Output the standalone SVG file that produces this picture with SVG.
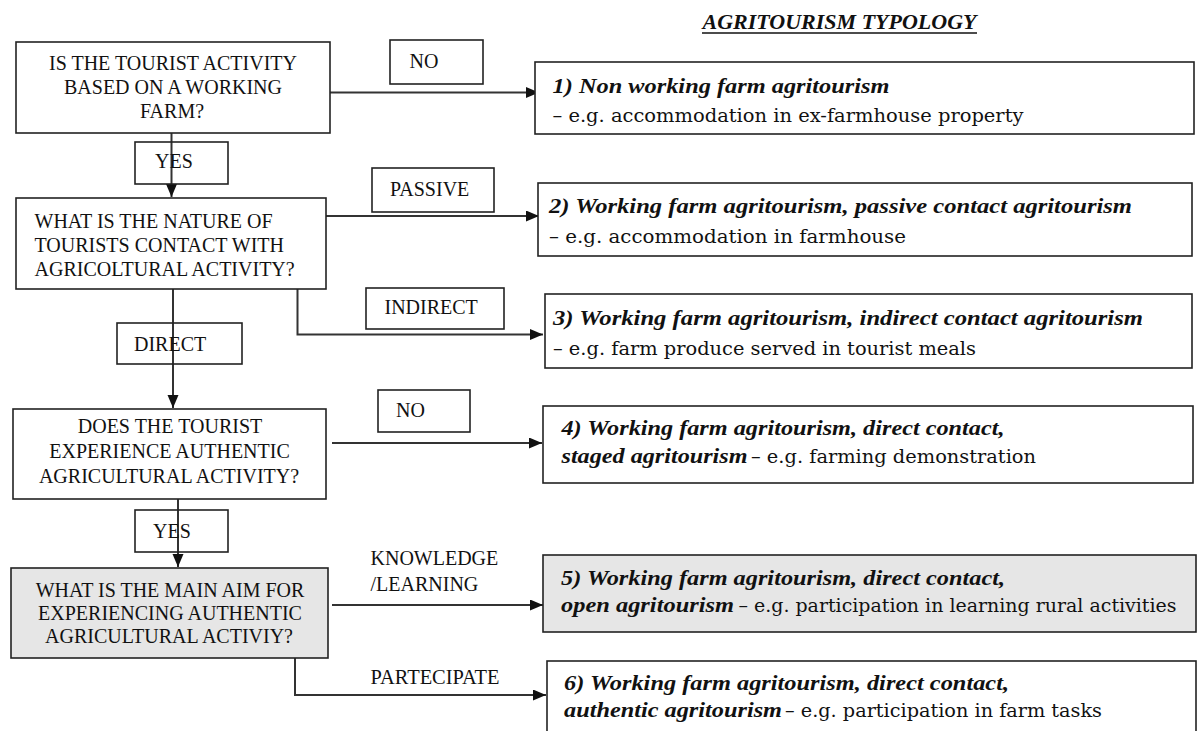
<svg xmlns="http://www.w3.org/2000/svg" width="1197" height="731" viewBox="0 0 1197 731">
  <style>
    .box { fill: #ffffff; stroke: #222222; stroke-width: 1.6; }
    .shade { fill: #e6e6e6; }
    .q { font-family: "Liberation Serif", "Times New Roman", serif; font-size: 20px; fill: #111111; }
    .mid { text-anchor: middle; }
    .t { font-family: "DejaVu Serif", "Liberation Serif", serif; font-size: 19px; fill: #111111; }
    .bi { font-family: "Liberation Serif", "Times New Roman", serif; font-size: 21.5px; font-weight: bold; font-style: italic; fill: #111111; }
    .title { font-family: "Liberation Serif", "Times New Roman", serif; font-size: 20px; font-weight: bold; font-style: italic; fill: #111111; }
    .conn { fill: none; stroke: #333333; stroke-width: 2; }
  </style>
  <defs>
    <marker id="arrow" markerUnits="userSpaceOnUse" markerWidth="14" markerHeight="12" refX="13" refY="5.5" orient="auto">
      <path d="M0,0 L13,5.5 L0,11 z" fill="#111111"/>
    </marker>
  </defs>

  <rect width="1197" height="731" fill="#ffffff"/>

  <!-- heading -->
  <g id="heading">
    <text class="title" x="702.5" y="29" textLength="274" lengthAdjust="spacingAndGlyphs">AGRITOURISM TYPOLOGY</text>
    <line x1="702" y1="33" x2="977" y2="33" stroke="#111111" stroke-width="1.3"/>
  </g>

  <!-- connectors -->
  <g id="connectors">
    <path class="conn" d="M330,92.5 H539" marker-end="url(#arrow)"/>
    <path class="conn" d="M171.5,133 V197" marker-end="url(#arrow)"/>
    <path class="conn" d="M326,216 H539" marker-end="url(#arrow)"/>
    <path class="conn" d="M297.5,289 V334.5 H543" marker-end="url(#arrow)"/>
    <path class="conn" d="M173,289 V408" marker-end="url(#arrow)"/>
    <path class="conn" d="M332,443 H542" marker-end="url(#arrow)"/>
    <path class="conn" d="M178,499 V567" marker-end="url(#arrow)"/>
    <path class="conn" d="M332,605 H543" marker-end="url(#arrow)"/>
    <path class="conn" d="M295,658 V695 H546" marker-end="url(#arrow)"/>
  </g>

  <!-- edge labels -->
  <g id="label-no-1">
    <rect class="box" x="390" y="40" width="93" height="44"/>
    <text class="q" x="409.5" y="68">NO</text>
  </g>
  <g id="label-yes-1">
    <rect class="box" x="135" y="142" width="93" height="42" fill-opacity="0"/>
    <text class="q" x="155" y="168">YES</text>
  </g>
  <g id="label-passive">
    <rect class="box" x="372" y="168" width="122" height="44"/>
    <text class="q" x="390" y="196">PASSIVE</text>
  </g>
  <g id="label-indirect">
    <rect class="box" x="366" y="288" width="138" height="41"/>
    <text class="q" x="384.5" y="314">INDIRECT</text>
  </g>
  <g id="label-direct">
    <rect class="box" x="117" y="323" width="125" height="41" fill-opacity="0"/>
    <text class="q" x="134" y="351">DIRECT</text>
  </g>
  <g id="label-no-2">
    <rect class="box" x="378" y="390" width="92" height="42"/>
    <text class="q" x="396" y="417">NO</text>
  </g>
  <g id="label-yes-2">
    <rect class="box" x="135" y="510" width="93" height="42" fill-opacity="0"/>
    <text class="q" x="153" y="538">YES</text>
  </g>
  <g id="label-knowledge">
    <text class="q" x="370.5" y="565">KNOWLEDGE</text>
    <text class="q" x="370.5" y="591">/LEARNING</text>
  </g>
  <g id="label-participate">
    <text class="q" x="370.5" y="684" textLength="129" lengthAdjust="spacingAndGlyphs">PARTECIPATE</text>
  </g>

  <!-- decision questions -->
  <g id="q-working-farm">
    <rect class="box" x="16" y="42" width="314" height="91"/>
    <text class="q mid" x="173" y="70">IS THE TOURIST ACTIVITY</text>
    <text class="q mid" x="173" y="94">BASED ON A WORKING</text>
    <text class="q mid" x="172" y="118">FARM?</text>
  </g>
  <g id="q-contact-nature">
    <rect class="box" x="16" y="198" width="310" height="91"/>
    <text class="q" x="34.5" y="228">WHAT IS THE NATURE OF</text>
    <text class="q" x="34.5" y="252">TOURISTS CONTACT WITH</text>
    <text class="q" x="34.5" y="276">AGRICOLTURAL ACTIVITY?</text>
  </g>
  <g id="q-authentic">
    <rect class="box" x="13" y="409" width="313" height="90"/>
    <text class="q mid" x="170" y="433">DOES THE TOURIST</text>
    <text class="q mid" x="169.5" y="458">EXPERIENCE AUTHENTIC</text>
    <text class="q mid" x="169" y="483">AGRICULTURAL ACTIVITY?</text>
  </g>
  <g id="q-main-aim">
    <rect class="box shade" x="11" y="568" width="317" height="90"/>
    <text class="q mid" x="170" y="597">WHAT IS THE MAIN AIM FOR</text>
    <text class="q mid" x="170" y="620">EXPERIENCING AUTHENTIC</text>
    <text class="q mid" x="169" y="643">AGRICULTURAL ACTIVIY?</text>
  </g>

  <!-- typology outcomes -->
  <g id="type-1">
    <rect class="box" x="535" y="62" width="659" height="72"/>
    <text class="bi" x="552.5" y="93" textLength="337" lengthAdjust="spacingAndGlyphs">1) Non working farm agritourism</text>
    <text class="t" x="552.5" y="122" textLength="471" lengthAdjust="spacingAndGlyphs">– e.g. accommodation in ex-farmhouse property</text>
  </g>
  <g id="type-2">
    <rect class="box" x="538" y="183" width="654" height="73"/>
    <text class="bi" x="549" y="213" textLength="583" lengthAdjust="spacingAndGlyphs">2) Working farm agritourism, passive contact agritourism</text>
    <text class="t" x="549" y="243" textLength="357" lengthAdjust="spacingAndGlyphs">– e.g. accommodation in farmhouse</text>
  </g>
  <g id="type-3">
    <rect class="box" x="545" y="294" width="647" height="74"/>
    <text class="bi" x="553" y="325" textLength="590" lengthAdjust="spacingAndGlyphs">3) Working farm agritourism, indirect contact agritourism</text>
    <text class="t" x="553" y="355" textLength="423" lengthAdjust="spacingAndGlyphs">– e.g. farm produce served in tourist meals</text>
  </g>
  <g id="type-4">
    <rect class="box" x="543" y="406" width="650" height="77"/>
    <text class="bi" x="561.5" y="435" textLength="443" lengthAdjust="spacingAndGlyphs">4) Working farm agritourism, direct contact,</text>
    <text class="bi" x="561.5" y="463" textLength="186" lengthAdjust="spacingAndGlyphs">staged agritourism</text>
    <text class="t" x="751" y="463" textLength="285" lengthAdjust="spacingAndGlyphs">– e.g. farming demonstration</text>
  </g>
  <g id="type-5">
    <rect class="box shade" x="543" y="555" width="653" height="77"/>
    <text class="bi" x="561" y="585" textLength="444" lengthAdjust="spacingAndGlyphs">5) Working farm agritourism, direct contact,</text>
    <text class="bi" x="561" y="612" textLength="173" lengthAdjust="spacingAndGlyphs">open agritourism</text>
    <text class="t" x="738.5" y="612" textLength="438" lengthAdjust="spacingAndGlyphs">– e.g. participation in learning rural activities</text>
  </g>
  <g id="type-6">
    <rect class="box" x="547" y="661" width="649" height="90"/>
    <text class="bi" x="564" y="690" textLength="445" lengthAdjust="spacingAndGlyphs">6) Working farm agritourism, direct contact,</text>
    <text class="bi" x="564" y="717" textLength="218" lengthAdjust="spacingAndGlyphs">authentic agritourism</text>
    <text class="t" x="785" y="717" textLength="317" lengthAdjust="spacingAndGlyphs">– e.g. participation in farm tasks</text>
  </g>
</svg>
